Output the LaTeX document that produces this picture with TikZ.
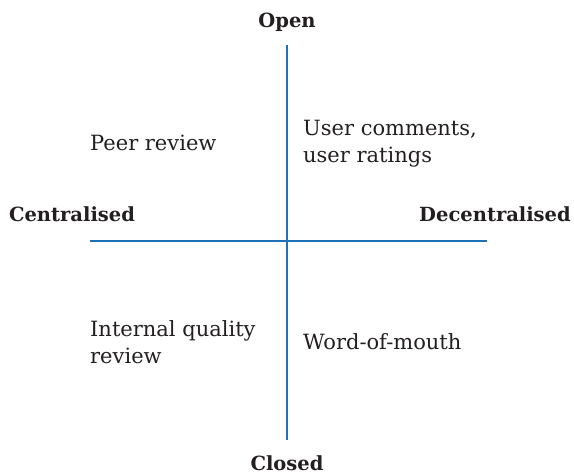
\documentclass[tikz,border=0pt]{standalone}
\usepackage{fontspec}
\setmainfont{DejaVu Serif}
\usepackage{tikz}
\usetikzlibrary{positioning}
\usepackage{xcolor}
\definecolor{axisblue}{HTML}{1F72B8}
\definecolor{inkgrey}{HTML}{231F20}
\tikzset{
axis/.style={draw=axisblue,
  line width=2.6pt},
pole/.style={font=\fontsize{19.5}{22}\selectfont\bfseries,
  text=inkgrey,
    inner sep=0pt},
quad/.style={font=\fontsize{21}{27}\selectfont,
  text=inkgrey,
    align=left,
    inner sep=0pt},
}
\begin{document}
\begin{tikzpicture}[x=1pt,y=-1pt]

  \useasboundingbox (0,0) rectangle (574,474);

  % Axis ends
  \coordinate (top) at (287,45);
  \coordinate (bottom) at (287,440);
  \coordinate (left) at (90,241);
  \coordinate (right) at (487,241);

  % Nodes
  \node [pole] (open) at (287,22) {Open};
  \node [pole] (closed) at (287,463) {Closed};
  \node [pole] (central) at (72,214) {Centralised};
  \node [pole] (decentral) at (495,214) {Decentralised};
  \node [quad, anchor=west] (peer) at (90,143) {Peer review};
  \node [quad, anchor=west] (user) at (303,144) {User comments,\\user ratings};
  \node [quad, anchor=west] (internal) at (90,342) {Internal quality\\review};
  \node [quad, anchor=west] (word) at (303,342) {Word-of-mouth};

  % Axes
  \draw [axis] (top) -- (bottom);
  \draw [axis] (left) -- (right);
\end{tikzpicture}
\end{document}
